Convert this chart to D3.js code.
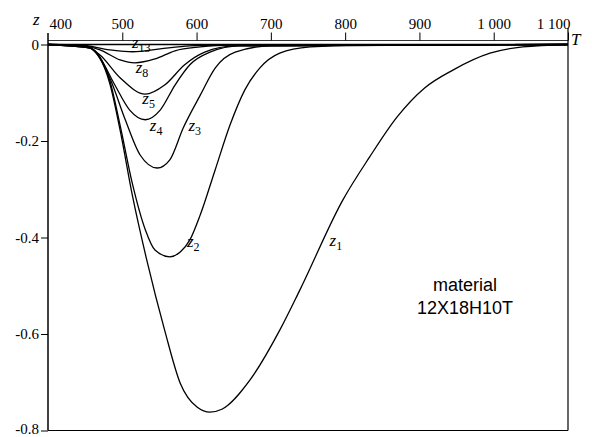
<!DOCTYPE html>
<meta charset="utf-8">
<style>
  body { margin: 0; background: #fff; }
  text { font-family: "Liberation Serif", "DejaVu Serif", serif; }
  text.note { font-family: "Liberation Sans", Arial, sans-serif; }
</style>
<svg width="592" height="437"></svg>
<script src="https://d3js.org/d3.v7.min.js"></script>
<script>

var svg = d3.select("svg"),
    width = 592,
    height = 437;

// temperature ticks along the top
var tTicks = [400, 500, 600, 700, 800, 900, 1000, 1100];
var tTickLabels = ["400", "500", "600", "700", "800", "900", "1 000", "1 100"];
var zTicks = [0, -0.2, -0.4, -0.6, -0.8];
var zTickLabels = ["0", "-0.2", "-0.4", "-0.6", "-0.8"];

// curves as [T, z]
var z1 = [[400,0],[430,-0.001],[456,-0.007],[483,-0.080],[497,-0.177],[514,-0.316],[533,-0.447],
  [557,-0.592],[578,-0.702],[601,-0.752],[618,-0.762],[634,-0.756],[672,-0.695],[712,-0.592],
  [739,-0.509],[797,-0.322],[833,-0.233],[870,-0.150],[907,-0.090],[945,-0.053],[995,-0.018],
  [1039,-0.005],[1100,0]];
var z2 = [[400,0],[456,-0.007],[483,-0.074],[497,-0.167],[514,-0.291],[531,-0.384],[544,-0.426],
  [564,-0.440],[578,-0.430],[591,-0.405],[605,-0.353],[625,-0.260],[645,-0.167],[665,-0.094],
  [685,-0.049],[712,-0.018],[753,-0.005],[820,-0.001],[1100,0]];
var z3 = [[400,0],[456,-0.007],[483,-0.069],[504,-0.156],[524,-0.229],[547,-0.256],[564,-0.239],
  [582,-0.173],[605,-0.105],[625,-0.049],[652,-0.016],[699,-0.003],[1100,0]];
var z4 = [[400,0],[456,-0.007],[470,-0.028],[490,-0.084],[510,-0.136],[531,-0.156],[551,-0.136],
  [571,-0.084],[591,-0.042],[618,-0.016],[658,-0.003],[1100,0]];
var z5 = [[400,0],[450,-0.003],[470,-0.022],[497,-0.069],[531,-0.103],[557,-0.084],[584,-0.042],
  [611,-0.016],[652,-0.003],[1100,0]];
var z8 = [[400,0],[443,-0.002],[470,-0.011],[497,-0.032],[517,-0.038],[544,-0.030],[571,-0.013],
  [605,-0.005],[645,-0.001],[1100,0]];
var z13 = [[400,0],[443,-0.001],[483,-0.011],[514,-0.015],[551,-0.009],[591,-0.003],[631,-0.001],
  [1100,0]];

var curves = [z1, z2, z3, z4, z5, z8, z13];
var curveNames = ["1", "2", "3", "4", "5", "8", "13"];
// label anchors in data units [T, z]
var labelAt = [[779,-0.418],[587,-0.419],[589,-0.180],[537,-0.180],[527,-0.123],[518,-0.059],[513,-0.008]];

var x = d3.scaleLinear().domain([400, 1100]).range([48, 568]);
var y = d3.scaleLinear().domain([0, -0.8]).range([44.5, 430.5]);

var line = d3.line()
    .x(function(d) { return x(d[0]); })
    .y(function(d) { return y(d[1]); })
    .curve(d3.curveMonotoneX);

// frame
svg.append("line").attr("x1", x(400)).attr("x2", x(400)).attr("y1", 33).attr("y2", y(-0.8))
    .attr("stroke", "#000").attr("stroke-width", 1.5);
svg.append("line").attr("x1", x(1100)).attr("x2", x(1100)).attr("y1", 28).attr("y2", y(-0.8))
    .attr("stroke", "#000").attr("stroke-width", 1.2);
svg.append("line").attr("x1", x(400)).attr("x2", x(1100)).attr("y1", y(-0.8)).attr("y2", y(-0.8))
    .attr("stroke", "#000").attr("stroke-width", 1.2);
svg.append("line").attr("x1", x(400)).attr("x2", x(1100)).attr("y1", 40.5).attr("y2", 40.5)
    .attr("stroke", "#000").attr("stroke-width", 0.8);

// top axis
var topAxis = svg.append("g").attr("transform", "translate(0,40.5)")
  .call(d3.axisTop(x).tickValues(tTicks).tickSize(8).tickFormat(function(d, i) { return tTickLabels[i]; }));
topAxis.select(".domain").remove();
topAxis.selectAll(".tick line").attr("stroke-width", 1).filter(function(d) { return d === 400; }).remove();
topAxis.selectAll(".tick text")
    .attr("font-size", 15).attr("fill", "#000").attr("y", -12)
    .attr("text-anchor", function(d) { return d === 400 ? "start" : d === 1100 ? "end" : "middle"; })
    .attr("dx", function(d) { return d === 400 ? 1 : d === 1100 ? 2 : 0; });

// left axis
var leftAxis = svg.append("g").attr("transform", "translate(" + x(400) + ",0)")
  .call(d3.axisLeft(y).tickValues(zTicks).tickSize(7).tickFormat(function(d, i) { return zTickLabels[i]; }));
leftAxis.select(".domain").remove();
leftAxis.selectAll(".tick text").attr("font-size", 15).attr("fill", "#000").attr("x", -9)
    .attr("dy", function(d) { return d === -0.8 ? "0.2em" : "0.32em"; });

// zero line
svg.append("line").attr("x1", x(400)).attr("x2", x(1100)).attr("y1", y(0)).attr("y2", y(0))
    .attr("stroke", "#000").attr("stroke-width", 1.5);

svg.append("g").selectAll("path").data(curves).join("path")
    .attr("d", line).attr("fill", "none").attr("stroke", "#000").attr("stroke-width", 1.3);

// curve labels
var lab = svg.append("g").selectAll("text").data(curveNames).join("text")
    .attr("x", function(d, i) { return x(labelAt[i][0]); })
    .attr("y", function(d, i) { return y(labelAt[i][1]); })
    .attr("font-size", 17).attr("font-style", "italic");
lab.append("tspan").text("z");
lab.append("tspan").attr("font-size", 12).attr("font-style", "normal").attr("dy", 4).text(function(d) { return d; });

// axis names
svg.append("text").attr("x", 33).attr("y", 25).attr("font-size", 17).attr("font-style", "italic").text("z");
svg.append("text").attr("x", 571).attr("y", 45).attr("font-size", 17).attr("font-style", "italic").text("T");

// material note
var note = svg.append("text").attr("class", "note").attr("font-size", 18).attr("text-anchor", "middle");
note.append("tspan").attr("x", 465).attr("y", 291).text("material");
note.append("tspan").attr("x", 465).attr("y", 314).text("12X18H10T");

</script>
